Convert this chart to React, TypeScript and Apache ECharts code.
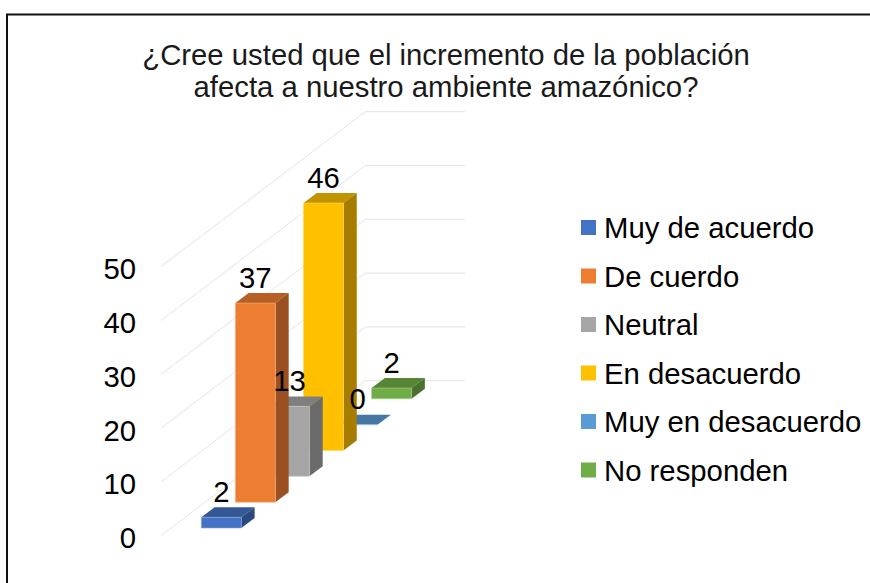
import React, { useEffect, useRef } from "react";
import * as echarts from "echarts";

const titleText = "¿Cree usted que el incremento de la población\nafecta a nuestro ambiente amazónico?";
const categories = ["Muy de acuerdo", "De cuerdo", "Neutral", "En desacuerdo", "Muy en desacuerdo", "No responden"];
const values = [2, 37, 13, 46, 0, 2];
const yTicks = [0, 10, 20, 30, 40, 50];
const frontColors = ["#4472C4", "#ED7D31", "#A5A5A5", "#FFC000", "#5B9BD5", "#70AD47"];
const topColors = ["#345796", "#B85F25", "#7F7F7F", "#C29300", "#4577A3", "#568536"];
const sideColors = ["#2C4880", "#9A5020", "#6B6B6B", "#A67D00", "#3B6588", "#49702E"];
const edgeColors = ["#8FAADC", "#F4B183", "#C9C9C9", "#FFD966", "#9DC3E6", "#A9D18E"];

const FONT = "'Liberation Sans', Arial, sans-serif";
const TEXT_SIZE = 29.3;
const SHEAR = 155 / 204.3;
const BAR_W = 40;
const DEPTH_X = 13.3;
const DEPTH_Y = 10;
const OFFSET_X = 23.3;
const OFFSET_Y = 7.7;

function barBase(api: any, i: number, v: number) {
  const step = api.size([1, 0])[0];
  const p = api.coord([i, v]);
  return [p[0] + OFFSET_X, p[1] - OFFSET_Y - i * step * SHEAR];
}

function renderGrid(params: any, api: any) {
  const cs = params.coordSys;
  const y = api.coord([0, api.value(1)])[1];
  const backX = cs.x + cs.width;
  return {
    type: "polyline",
    shape: { points: [[cs.x, y], [backX, y - cs.width * SHEAR], [backX + 100, y - cs.width * SHEAR]] },
    style: { stroke: "#E4E4E4", lineWidth: 1, fill: "none" },
    silent: true,
  };
}

function renderBar(params: any, api: any) {
  const i = api.value(0);
  const v = api.value(1);
  const [x, yBase] = barBase(api, i, 0);
  const yTop = barBase(api, i, v)[1];
  const edge = { stroke: edgeColors[i], lineWidth: 0.6 };
  const xr = x + BAR_W;
  return {
    type: "group",
    silent: true,
    children: [
      {
        type: "polygon",
        shape: { points: [[x, yTop], [xr, yTop], [xr + DEPTH_X, yTop - DEPTH_Y], [x + DEPTH_X, yTop - DEPTH_Y]] },
        style: { fill: topColors[i] },
      },
      {
        type: "polygon",
        shape: { points: [[xr, yBase], [xr, yTop], [xr + DEPTH_X, yTop - DEPTH_Y], [xr + DEPTH_X, yBase - DEPTH_Y]] },
        style: { fill: sideColors[i] },
      },
      {
        type: "rect",
        shape: { x, y: yTop, width: BAR_W, height: yBase - yTop },
        style: { fill: frontColors[i], ...edge },
      },
    ],
  };
}

function renderLabel(params: any, api: any) {
  const i = api.value(0);
  const v = api.value(1);
  const [x, yTop] = barBase(api, i, v);
  return {
    type: "text",
    silent: true,
    style: {
      text: String(v),
      x: x + BAR_W / 2,
      y: yTop - DEPTH_Y - 16,
      fill: "#000000",
      fontSize: TEXT_SIZE,
      fontFamily: FONT,
      textAlign: "center",
      textVerticalAlign: "middle",
    },
  };
}

export default function App() {
  const ref = useRef<HTMLDivElement>(null);
  useEffect(() => {
    const chart = echarts.init(ref.current!, undefined, { renderer: "svg" });
    const barSeries = categories
      .map((name, i) => ({
        type: "custom",
        name,
        z: 10 + (categories.length - i),
        itemStyle: { color: frontColors[i] },
        data: [[i, values[i]]],
        renderItem: renderBar,
        clip: false,
      }));
    chart.setOption({
      animation: false,
      backgroundColor: "#ffffff",
      title: {
        text: titleText,
        left: 441,
        top: 33,
        textAlign: "center",
        textStyle: { fontFamily: FONT, fontSize: TEXT_SIZE, fontWeight: "normal", color: "#1a1a1a", lineHeight: 32 },
      },
      legend: {
        data: categories,
        orient: "vertical",
        left: 576,
        top: 206,
        icon: "rect",
        itemWidth: 15,
        itemHeight: 15,
        itemGap: 15.5,
        selectedMode: false,
        textStyle: { fontFamily: FONT, fontSize: TEXT_SIZE, color: "#000000", padding: [0, 0, 0, 3], lineHeight: 33 },
      },
      graphic: [
        {
          type: "rect",
          shape: { x: 7, y: 14.5, width: 950, height: 650 },
          style: { fill: "none", stroke: "#111111", lineWidth: 2 },
          silent: true,
          z: 0,
        },
      ],
      grid: { left: 161, top: 266.7, width: 204.3, height: 269, containLabel: false },
      xAxis: { type: "category", data: categories, show: false },
      yAxis: {
        type: "value",
        min: 0,
        max: 50,
        interval: 10,
        splitLine: { show: false },
        axisLine: { show: false },
        axisTick: { show: false },
        axisLabel: { margin: 25, fontFamily: FONT, fontSize: TEXT_SIZE, color: "#000000", verticalAlign: "top", lineHeight: 4 },
      },
      series: [
        {
          type: "custom",
          name: "grid",
          z: 2,
          silent: true,
          data: yTicks.map((t) => [0, t]),
          renderItem: renderGrid,
          clip: false,
        },
        ...barSeries,
        {
          type: "custom",
          name: "labels",
          z: 30,
          silent: true,
          data: values.map((v, i) => [i, v]),
          renderItem: renderLabel,
          clip: false,
        },
      ],
    });
    return () => chart.dispose();
  }, []);
  return <div ref={ref} style={{ position: "absolute", left: 0, top: 0, width: 870, height: 583 }} />;
}
